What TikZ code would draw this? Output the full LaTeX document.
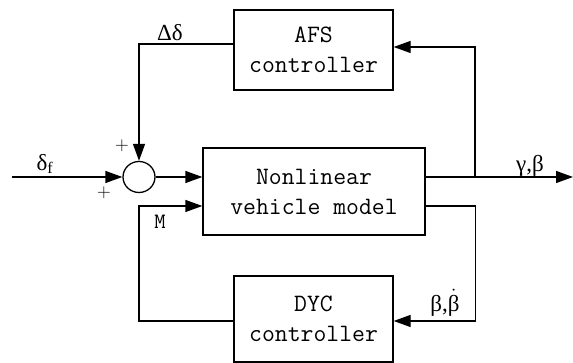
\documentclass[tikz,border=0pt]{standalone}
\usepackage{fontspec}
\setmainfont{Liberation Serif}
\newfontfamily\signfont{Latin Modern Roman}
\usetikzlibrary{arrows.meta,positioning,shapes.geometric}

\begin{document}
\begin{tikzpicture}[
  x=1pt, y=1pt,
  line width=1.3pt,
  block/.style={draw, align=center, minimum width=159pt, minimum height=80pt,
    font=\ttfamily\fontsize{25}{30}\selectfont},
  plant/.style={block, minimum width=222pt, minimum height=87pt},
  sumnode/.style={draw, ellipse, minimum width=32pt, minimum height=31pt, inner sep=0pt},
  arrow/.style={-{Triangle[length=17pt,width=12pt]}},
  sig/.style={font=\fontsize{23}{25}\selectfont, inner sep=1pt},
  sign/.style={font=\signfont\fontsize{19}{19}\selectfont, inner sep=0pt}
]
\useasboundingbox (0,0) rectangle (573,363);

\node[plant] (plant) at (314,171.5) {Nonlinear\\vehicle model};
\node[block, minimum height=80pt] (afs) at (313.5,313) {AFS\\controller};
\node[block, minimum height=86pt] (dyc) at (313.5,44) {DYC\\controller};
\node[sumnode] (sum) at (139,186) {};

\coordinate (in) at (12,186);
\coordinate (br) at (475,186);
\coordinate (out) at (573,186);

% forward path
\draw[arrow] (in) -- (sum.west);
\draw[arrow] (sum.east) -- (sum.east -| plant.west);
\draw[arrow] ([yshift=14.5pt]plant.east) -- (out);

% AFS loop
\draw[arrow] (br) |- ([yshift=3pt]afs.east);
\draw[arrow] ([yshift=6pt]afs.west) -| (sum.north);

% DYC loop
\draw[arrow] ([yshift=-14.5pt]plant.east) -- ++(50,0) |- ([yshift=-2pt]dyc.east);
\draw[arrow] ([yshift=-2pt]dyc.west) -| ([yshift=-14.5pt]sum |- plant.west) -- ([yshift=-14.5pt]plant.west);

% labels
\node[sig] (df) at (45,199) {δ\textsubscript{f}};
\node[sig] (dd) at (170,330) {Δδ};
\node[sig] (gb) at (530,197) {γ,β};
\node[sig] (bb) at (445,60) {β,$\dot{\mbox{β}}$};
\node[font=\ttfamily\fontsize{22}{22}\selectfont] (m) at (160,141) {M};
\node[sign] (p1) at (122,217) {+};
\node[sign] (p2) at (104,170) {+};
\end{tikzpicture}
\end{document}
